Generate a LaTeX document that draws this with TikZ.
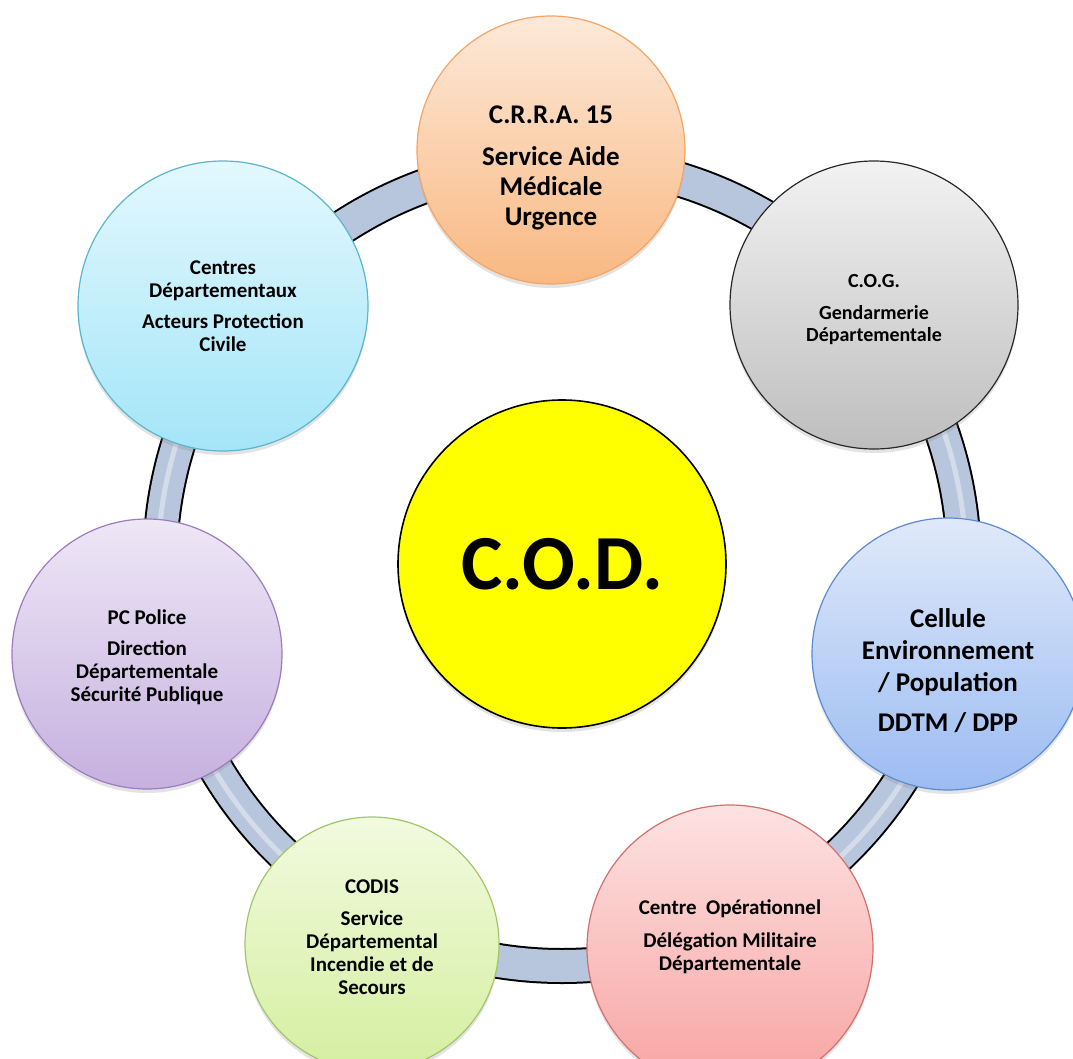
\documentclass[tikz,border=0pt]{standalone}
\usepackage{fontspec}
\setmainfont{Carlito}
\usepackage{tikz}
\usetikzlibrary{shadows}

\definecolor{ringblue}{HTML}{B8C6DD}
\definecolor{codyellow}{HTML}{FFFF00}

\begin{document}
\begin{tikzpicture}[x=1pt, y=-1pt,
  bubble/.style={circle, inner sep=0pt, line width=1.2pt,
    drop shadow={opacity=.22, shadow xshift=0pt, shadow yshift=-4pt}},
  txt/.style 2 args={align=center, inner sep=0pt, font=\bfseries\fontsize{#1}{#2}\selectfont},
  ring/.style={line width=#1, line cap=round}]
\useasboundingbox (0,0) rectangle (1073,1059);
\clip (0,0) rectangle (1073,1059);

% centre
\node[bubble, txt={78}{80}, fill=codyellow, draw=black, line width=1.6pt, minimum size=328] (cod) at (562,564)
  {C.O.D.};

% anneau
\draw[ring=36pt, black] (cod.center) circle (402);
\draw[ring=32pt, ringblue] (cod.center) circle (402);
\draw[ring=5pt, white, opacity=.4] ([shift={(-39:404)}]cod.center) arc[start angle=-39, end angle=65, radius=404];
\draw[ring=5pt, white, opacity=.4] ([shift={(116:404)}]cod.center) arc[start angle=116, end angle=218, radius=404];

% cercles
\node[bubble, top color={rgb,255:red,253;green,233;blue,217}, bottom color={rgb,255:red,249;green,184;blue,130},
  draw={rgb,255:red,246;green,164;blue,100}, minimum size=268] (crra) at (551,150) {};
\node[bubble, top color={rgb,255:red,242;green,242;blue,242}, bottom color={rgb,255:red,190;green,190;blue,190},
  draw={rgb,255:red,40;green,40;blue,40}, minimum size=288] (cog) at (874,305) {};
\node[bubble, top color={rgb,255:red,224;green,233;blue,250}, bottom color={rgb,255:red,156;green,188;blue,242},
  draw={rgb,255:red,91;green,139;blue,208}, minimum size=272] (cellule) at (948,654) {};
\node[bubble, top color={rgb,255:red,253;green,226;blue,226}, bottom color={rgb,255:red,247;green,163;blue,161},
  draw={rgb,255:red,210;green,112;blue,110}, minimum size=286] (dmd) at (730,948) {};
\node[bubble, top color={rgb,255:red,242;green,250;blue,223}, bottom color={rgb,255:red,212;green,239;blue,160},
  draw={rgb,255:red,163;green,197;blue,106}, minimum size=254] (codis) at (372,944) {};
\node[bubble, top color={rgb,255:red,238;green,231;blue,246}, bottom color={rgb,255:red,198;green,176;blue,223},
  draw={rgb,255:red,154;green,124;blue,192}, minimum size=270] (police) at (147,654) {};
\node[bubble, top color={rgb,255:red,227;green,248;blue,254}, bottom color={rgb,255:red,163;green,229;blue,248},
  draw={rgb,255:red,91;green,181;blue,204}, minimum size=290] (centres) at (223,306) {};

% textes
\node[txt={27}{30}] (crra-t) at ([yshift=-18pt]crra.center)
  {C.R.R.A. 15\\[12pt] Service Aide\\ Médicale\\ Urgence};
\node[txt={20}{22}] (cog-t) at ([yshift=-5pt]cog.center)
  {C.O.G.\\[10pt] Gendarmerie\\ Départementale};
\node[txt={27}{32}] (cellule-t) at ([yshift=-17pt]cellule.center)
  {Cellule\\ Environnement\\ / Population\\[8pt] DDTM / DPP};
\node[txt={21}{23}] (dmd-t) at ([yshift=11pt]dmd.center)
  {Centre\ \ Opérationnel\\[10pt] Délégation Militaire\\ Départementale};
\node[txt={21}{23}] (codis-t) at ([yshift=7pt]codis.center)
  {CODIS\\[9pt] Service\\ Départemental\\ Incendie et de\\ Secours};
\node[txt={21}{23}] (police-t) at ([yshift=-3pt]police.center)
  {PC Police\\[8pt] Direction\\ Départementale\\ Sécurité Publique};
\node[txt={21}{22.5}] (centres-t) at (centres.center)
  {Centres\\ Départementaux\\[9pt] Acteurs Protection\\ Civile};
\end{tikzpicture}
\end{document}
